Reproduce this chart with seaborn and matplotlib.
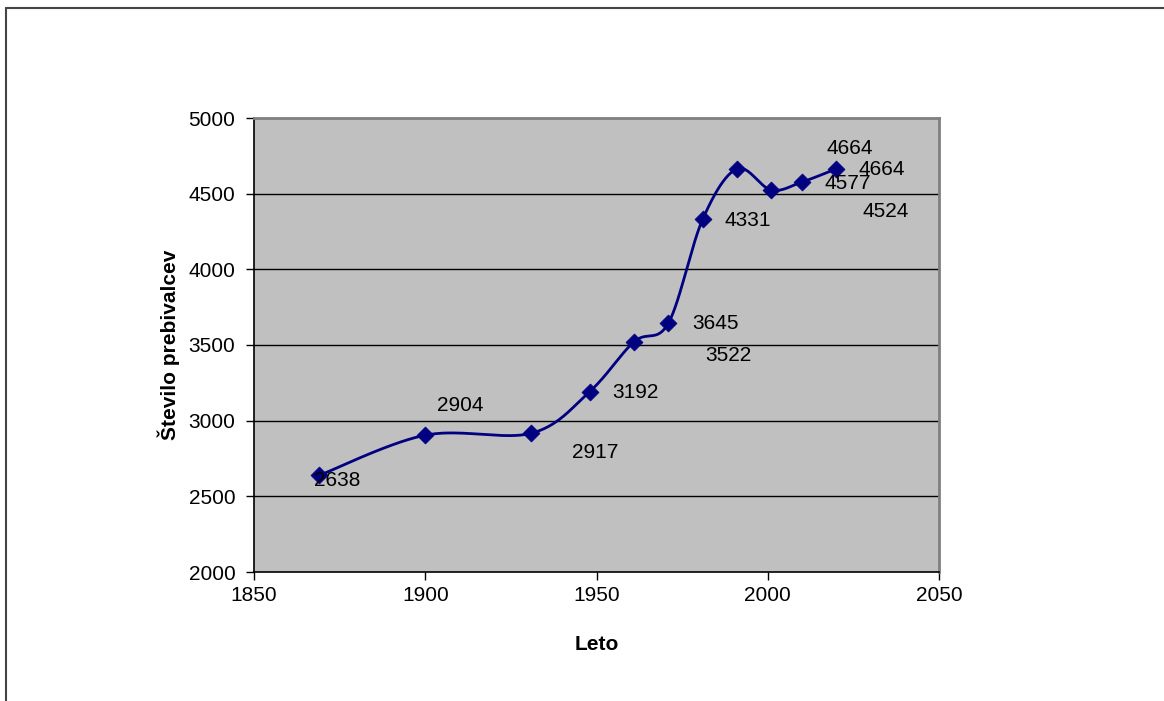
import numpy as np
import pandas as pd
import matplotlib
matplotlib.use("Agg")
import matplotlib.pyplot as plt
import seaborn as sns
from matplotlib.lines import Line2D

# ---- data ----
years = [1869, 1900, 1931, 1948, 1961, 1971, 1981, 1991, 2001, 2010, 2020]
population = [2638, 2904, 2917, 3192, 3522, 3645, 4331, 4664, 4524, 4577, 4664]
point_labels = ["2638", "2904", "2917", "3192", "3522", "3645", "4331", "4664", "4524", "4577", "4664"]
x_ticks = [1850, 1900, 1950, 2000, 2050]
y_ticks = [2000, 2500, 3000, 3500, 4000, 4500, 5000]
x_title = "Leto"
y_title = "Število prebivalcev"

# label offsets (pixels, right / down) as placed in the reference
label_offsets = [(18, 5), (35, -30), (64, 19), (46, 1), (94, 14), (47, 0),
                 (45, 1), (145, 1), (115, 21), (46, 1), (13, -20)]

sns.set_style("white")
plt.rcParams["font.family"] = ["Liberation Sans", "DejaVu Sans"]
plt.rcParams["text.color"] = "black"
plt.rcParams["axes.labelcolor"] = "black"
plt.rcParams["xtick.color"] = "black"
plt.rcParams["ytick.color"] = "black"

DPI = 100
fig = plt.figure(figsize=(11.64, 7.01), dpi=DPI)
ax = fig.add_axes([254 / 1164, 1 - 572 / 701, 685 / 1164, 454 / 701])

# Excel-style smoothed line (Bezier with 1/6 tension through the data points)
px = np.array(years, dtype=float)
py = np.array(population, dtype=float)
P = np.column_stack([px, py])
Pext = np.vstack([P[0], P, P[-1]])
curve = []
t = np.linspace(0, 1, 40)
for i in range(len(P) - 1):
    p0, p1, p2, p3 = Pext[i], Pext[i + 1], Pext[i + 2], Pext[i + 3]
    c1 = p1 + (p2 - p0) / 6.0
    c2 = p2 - (p3 - p1) / 6.0
    seg = ((1 - t) ** 3)[:, None] * p1 + (3 * (1 - t) ** 2 * t)[:, None] * c1 \
        + (3 * (1 - t) * t ** 2)[:, None] * c2 + (t ** 3)[:, None] * p2
    curve.append(seg if i == 0 else seg[1:])
curve = np.vstack(curve)
curve_df = pd.DataFrame({"x": curve[:, 0], "y": curve[:, 1]})
pts_df = pd.DataFrame({"Leto": years, "Prebivalci": population})

ax.set_facecolor("#C0C0C0")
for yv in y_ticks[1:-1]:
    ax.axhline(yv, color="black", lw=1.0, zorder=1)

sns.lineplot(data=curve_df, x="x", y="y", sort=False, estimator=None,
             color="#000080", lw=2.0, ax=ax, zorder=3)
sns.scatterplot(data=pts_df, x="Leto", y="Prebivalci", marker="D", s=75,
                color="#000080", edgecolor="#000080", linewidth=0.5, ax=ax, zorder=4)

for xv, yv, lab, (dx, dy) in zip(years, population, point_labels, label_offsets):
    ax.annotate(lab, (xv, yv), xytext=(dx, -dy), textcoords="offset pixels",
                ha="center", va="center", fontsize=15, color="black", zorder=5)

ax.set_xlim(1850, 2050)
ax.set_ylim(2000, 5000)
ax.set_xticks(x_ticks)
ax.set_yticks(y_ticks)
ax.tick_params(axis="both", which="both", direction="out", length=6, width=1,
               color="black", labelcolor="black", labelsize=15, left=True, bottom=True)
ax.tick_params(axis="y", pad=7.5)
ax.tick_params(axis="x", pad=4)
ax.set_xlabel(x_title, fontsize=15, fontweight="bold", labelpad=22, color="black")
ax.set_ylabel(y_title, fontsize=15, fontweight="bold", labelpad=6, color="black")

ax.spines["left"].set_color("black")
ax.spines["bottom"].set_color("black")
ax.spines["left"].set_linewidth(1.2)
ax.spines["bottom"].set_linewidth(1.2)
ax.spines["top"].set_color("#808080")
ax.spines["right"].set_color("#808080")
ax.spines["top"].set_linewidth(2)
ax.spines["right"].set_linewidth(2)
for s in ax.spines.values():
    s.set_visible(True)

# outer chart frame (left and top edges visible)
fig.add_artist(Line2D([6 / 1164, 6 / 1164], [0, 1 - 8 / 701], transform=fig.transFigure,
                      color="#444444", lw=1.5))
fig.add_artist(Line2D([6 / 1164, 1], [1 - 8 / 701, 1 - 8 / 701], transform=fig.transFigure,
                      color="#444444", lw=1.5))

fig.savefig("out.png", dpi=DPI)
